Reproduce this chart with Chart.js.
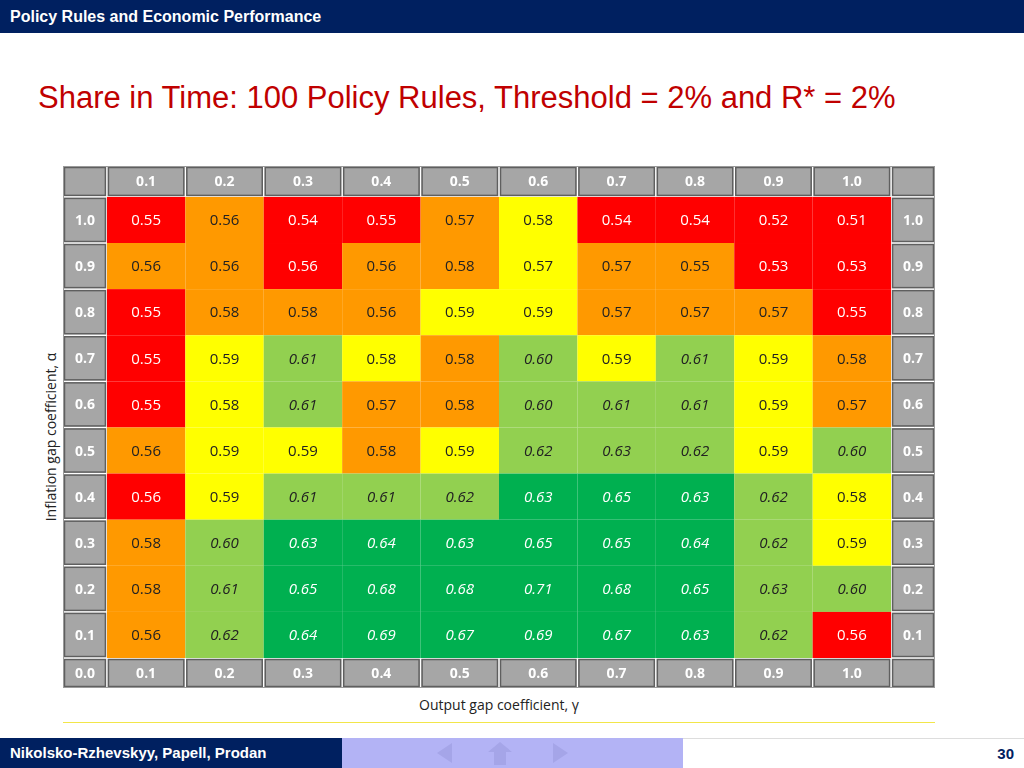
<!DOCTYPE html>
<html><head><meta charset="utf-8">
<script src="https://cdn.jsdelivr.net/npm/chart.js@4.4.0/dist/chart.umd.min.js"></script>
<style>
body{margin:0;width:1024px;height:768px;position:relative;overflow:hidden;background:#fff;font-family:"Liberation Sans",Arial,sans-serif}
#top{position:absolute;left:0;top:0;width:1024px;height:33px;background:#002060;color:#fff;font-weight:bold;font-size:16px;line-height:33px;padding-left:10px;box-sizing:border-box}
#title{position:absolute;left:38px;top:80px;color:#C00000;font-size:31px;white-space:nowrap}
#ylab{position:absolute;left:50px;top:437px;transform:translate(-50%,-50%) rotate(-90deg);font-family:"Open Sans";font-size:14px;white-space:nowrap;color:#222}
#xlab{position:absolute;left:499px;top:698px;transform:translateX(-50%);font-family:"Open Sans";font-size:14px;color:#222;white-space:nowrap;line-height:1}
#yl{position:absolute;left:63px;top:722px;width:872px;height:1px;background:#f2e64a}
#f1{position:absolute;left:0;top:738px;width:342px;height:30px;background:#002060;color:#fff;font-weight:bold;font-size:15px;line-height:30px;padding-left:10px;box-sizing:border-box}
#f2{position:absolute;left:342px;top:738px;width:341px;height:30px;background:#b3b3f5}
#f3{position:absolute;left:683px;top:738px;width:341px;height:30px;background:#fff;border-top:1px solid #ddd;box-sizing:border-box;text-align:right;padding-right:10px;font-weight:bold;font-size:15px;line-height:30px;color:#002060}
canvas{position:absolute;left:0;top:0}
</style></head><body>
<div id="top">Policy Rules and Economic Performance</div>
<div id="title">Share in Time: 100 Policy Rules, Threshold = 2% and R* = 2%</div>
<div id="ylab">Inflation gap coefficient, α</div>
<div id="xlab">Output gap coefficient, γ</div>
<div id="yl"></div>
<div id="f1">Nikolsko-Rzhevskyy, Papell, Prodan</div>
<div id="f2"><svg width="341" height="30"><polygon points="95,15 110,5 110,25" fill="#a5a5e8"/><polygon points="158,4 170,14 164,14 164,27 152,27 152,14 146,14" fill="#a5a5e8"/><polygon points="226,15 211,5 211,25" fill="#a5a5e8"/></svg></div>
<div id="f3">30</div>
<canvas id="c" width="1024" height="768"></canvas>
<script>
const gammaLabels=['0.1','0.2','0.3','0.4','0.5','0.6','0.7','0.8','0.9','1.0'];
const alphaLabels=['1.0','0.9','0.8','0.7','0.6','0.5','0.4','0.3','0.2','0.1'];
const shares=[
[0.55,0.56,0.54,0.55,0.57,0.58,0.54,0.54,0.52,0.51],
[0.56,0.56,0.56,0.56,0.58,0.57,0.57,0.55,0.53,0.53],
[0.55,0.58,0.58,0.56,0.59,0.59,0.57,0.57,0.57,0.55],
[0.55,0.59,0.61,0.58,0.58,0.60,0.59,0.61,0.59,0.58],
[0.55,0.58,0.61,0.57,0.58,0.60,0.61,0.61,0.59,0.57],
[0.56,0.59,0.59,0.58,0.59,0.62,0.63,0.62,0.59,0.60],
[0.56,0.59,0.61,0.61,0.62,0.63,0.65,0.63,0.62,0.58],
[0.58,0.60,0.63,0.64,0.63,0.65,0.65,0.64,0.62,0.59],
[0.58,0.61,0.65,0.68,0.68,0.71,0.68,0.65,0.63,0.60],
[0.56,0.62,0.64,0.69,0.67,0.69,0.67,0.63,0.62,0.56]];
const classes=[
'RORROYRRRR','OOROOYOORR','ROOOYYOOOR','RYLYOLYLYO','RYLOOLLLYO',
'OYYOYLLLYL','RYLLLGGGLY','OLGGGGGGLY','OLGGGGGGLL','OLGGGGGGLR'];
const fills={R:'#FF0000',O:'#FF9900',Y:'#FFFF00',L:'#92D050',G:'#00B050'};
const inks={R:'#fff',O:'#222',Y:'#222',L:'#222',G:'#fff'};
const pts=[];
shares.forEach((row,r)=>row.forEach((v,c)=>pts.push({x:c+1,y:10-r,v:v,k:classes[r][c]})));
const LX=-0.06,RX=11.06,BY=-0.15,TY=11.17;
const cellPlugin={id:'cells',afterDatasetsDraw(ch){
 const ctx=ch.ctx,xs=ch.scales.x,ys=ch.scales.y;
 const X=v=>xs.getPixelForValue(v),Y=v=>ys.getPixelForValue(v);
 ctx.save();
 ctx.fillStyle='#fff';ctx.fillRect(X(LX),Y(TY),X(RX)-X(LX),Y(BY)-Y(TY));
 pts.forEach(p=>{
  const x0=X(p.x-0.5),x1=X(p.x+0.5),y0=Y(p.y+0.5),y1=Y(p.y-0.5);
  ctx.fillStyle=fills[p.k];ctx.fillRect(x0,y0,x1-x0,y1-y0);
  ctx.fillStyle=inks[p.k];
  ctx.font=((p.k==='L'||p.k==='G')?'italic ':'')+'15px "Open Sans"';
  ctx.textAlign='center';ctx.textBaseline='middle';
  ctx.fillText(p.v.toFixed(2),(x0+x1)/2,(y0+y1)/2+1);
 });
 function hdr(a,b,c,d,t){
  const x0=X(a),x1=X(b),y0=Y(d),y1=Y(c);
  ctx.fillStyle='#A6A6A6';ctx.fillRect(x0+1,y0+1,x1-x0-2,y1-y0-2);
  ctx.strokeStyle='#5f5f5f';ctx.lineWidth=1.5;ctx.strokeRect(x0+1.5,y0+1.5,x1-x0-3,y1-y0-3);
  if(t){ctx.fillStyle='#fff';ctx.font='bold 14px "Open Sans"';ctx.textAlign='center';ctx.textBaseline='middle';ctx.fillText(t,(x0+x1)/2,(y0+y1)/2+1);}
 }
 hdr(LX,0.5,10.5,TY,'');hdr(10.5,RX,10.5,TY,'');
 hdr(LX,0.5,BY,0.5,'0.0');hdr(10.5,RX,BY,0.5,'');
 gammaLabels.forEach((g,i)=>{hdr(i+0.5,i+1.5,10.5,TY,g);hdr(i+0.5,i+1.5,BY,0.5,g);});
 alphaLabels.forEach((a,i)=>{const y=10-i;hdr(LX,0.5,y-0.5,y+0.5,a);hdr(10.5,RX,y-0.5,y+0.5,a);});
 ctx.strokeStyle='#9a9a9a';ctx.lineWidth=1;ctx.strokeRect(X(LX)+0.5,Y(TY)+0.5,X(RX)-X(LX)-1,Y(BY)-Y(TY)-1);
 ctx.restore();
}};
new Chart(document.getElementById('c'),{type:'scatter',
 data:{datasets:[{data:pts,pointRadius:0}]},
 options:{responsive:false,animation:false,events:[],
  layout:{padding:{left:63,right:89,top:166,bottom:80}},
  plugins:{legend:{display:false},tooltip:{enabled:false}},
  scales:{x:{type:'linear',min:LX,max:RX,display:false},y:{type:'linear',min:BY,max:TY,display:false}}},
 plugins:[cellPlugin]});
</script></body></html>
